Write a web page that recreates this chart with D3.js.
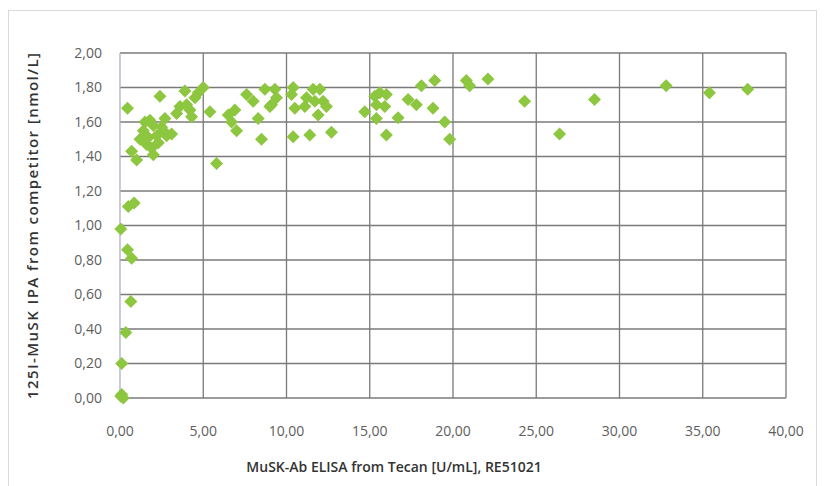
<!DOCTYPE html>
<html>
<head>
<meta charset="utf-8">
<script src="https://cdn.jsdelivr.net/npm/d3@7"></script>
<style>
	body { margin: 0; background: #fff; }
	.tick-label { font-family: "Open Sans", sans-serif; font-size: 14px; fill: #5e5e5e; }
	.axis-title { font-family: "Open Sans", sans-serif; font-weight: 600; fill: #333; }
</style>
</head>
<body>
<div id="chart"></div>
<script>

// MuSK-Ab ELISA (x) vs 125I-MuSK IPA (y)
var xValues = [0.05, 0.1, 0.2, 0.1, 0.35, 0.65, 0.7, 0.45, 0.05, 0.5, 0.85,
	0.7, 1.0, 0.45,
	1.2, 1.4, 1.6, 1.7, 2.0, 1.5, 1.8, 2.0, 2.2, 2.5, 2.7, 2.8, 3.1, 2.3, 1.9, 2.6,
	2.4, 3.6, 3.4, 3.9, 4.2, 4.3, 4.5, 4.7, 5.0, 4.0,
	5.4, 5.8, 6.5, 6.9, 7.0, 6.7, 7.6, 8.0, 8.3, 8.5, 8.7, 9.0, 9.3, 9.4, 9.1,
	10.4, 10.3, 10.5, 11.1, 11.2, 11.6, 12.0, 11.7, 12.2, 12.4, 11.9, 10.4, 11.4, 12.7,
	14.7, 15.3, 15.6, 16.0, 15.4, 15.9, 15.4, 16.0, 16.7, 17.3, 17.8, 18.1, 18.9, 18.8, 19.5, 19.8,
	20.8, 21.0, 22.1, 24.3, 26.4, 28.5, 32.8, 35.4, 37.7];

var yValues = [0.01, 0.02, 0.00, 0.20, 0.38, 0.56, 0.81, 0.86, 0.98, 1.11, 1.13,
	1.43, 1.38, 1.68,
	1.50, 1.55, 1.47, 1.51, 1.41, 1.60, 1.61, 1.58, 1.52, 1.57, 1.62, 1.52, 1.53, 1.48, 1.45, 1.55,
	1.75, 1.69, 1.65, 1.78, 1.67, 1.63, 1.74, 1.77, 1.80, 1.70,
	1.66, 1.36, 1.64, 1.67, 1.55, 1.60, 1.76, 1.72, 1.62, 1.50, 1.79, 1.69, 1.79, 1.74, 1.70,
	1.80, 1.76, 1.68, 1.69, 1.74, 1.79, 1.79, 1.72, 1.72, 1.69, 1.64, 1.515, 1.525, 1.54,
	1.66, 1.75, 1.77, 1.76, 1.70, 1.69, 1.62, 1.525, 1.625, 1.73, 1.70, 1.81, 1.84, 1.68, 1.60, 1.50,
	1.84, 1.81, 1.85, 1.72, 1.53, 1.73, 1.81, 1.77, 1.79];

var xTicks = [0, 5, 10, 15, 20, 25, 30, 35, 40];
var yTicks = [0, 0.2, 0.4, 0.6, 0.8, 1.0, 1.2, 1.4, 1.6, 1.8, 2.0];

var xTitle = "MuSK-Ab ELISA from Tecan [U/mL], RE51021";
var yTitle = "125I-MuSK IPA from competitor [nmol/L]";

var data = xValues.map(function(d, i) { return { x: d, y: yValues[i] }; });

var totalWidth = 825, totalHeight = 486;
var margin = { top: 53, right: 39, bottom: 88, left: 120 };
var width = totalWidth - margin.left - margin.right,
	height = totalHeight - margin.top - margin.bottom;

var fmt = function(d) { return d3.format(".2f")(d).replace(".", ","); };

var root = d3.select("#chart").append("svg")
		.attr("width", totalWidth)
		.attr("height", totalHeight);

// light frame round the chart
root.append("rect")
	.attr("x", 8.5).attr("y", 10.5)
	.attr("width", 808).attr("height", 490)
	.attr("fill", "none")
	.attr("stroke", "#d9d9d9")
	.attr("stroke-width", 1);

var svg = root.append("g")
		.attr("transform", "translate(" + margin.left + "," + margin.top + ")");

var x = d3.scaleLinear().domain([0, 40]).range([0, width]);
var y = d3.scaleLinear().domain([0, 2]).range([height, 0]);

// gridlines
svg.selectAll(".hgrid").data(yTicks)
	.enter().append("line")
	.attr("class", "hgrid")
	.attr("x1", 0).attr("x2", width)
	.attr("y1", function(d) { return y(d); })
	.attr("y2", function(d) { return y(d); })
	.attr("stroke", "#7a7a7a")
	.attr("stroke-width", 1.3);

svg.selectAll(".vgrid").data(xTicks)
	.enter().append("line")
	.attr("class", "vgrid")
	.attr("y1", 0).attr("y2", height)
	.attr("x1", function(d) { return x(d); })
	.attr("x2", function(d) { return x(d); })
	.attr("stroke", function(d) { return d === 0 ? "#b0b0c4" : "#7a7a7a"; })
	.attr("stroke-width", 1.3);

// tick labels
svg.selectAll(".ylab").data(yTicks)
	.enter().append("text")
	.attr("class", "tick-label ylab")
	.attr("x", -18)
	.attr("y", function(d) { return y(d); })
	.attr("dy", "0.35em")
	.attr("text-anchor", "end")
	.text(fmt);

svg.selectAll(".xlab").data(xTicks)
	.enter().append("text")
	.attr("class", "tick-label xlab")
	.attr("x", function(d) { return x(d); })
	.attr("y", height + 38)
	.attr("text-anchor", "middle")
	.text(fmt);

// axis titles
root.append("text")
	.attr("class", "axis-title")
	.attr("x", 394)
	.attr("y", 472)
	.attr("text-anchor", "middle")
	.style("font-size", "14px")
	.text(xTitle);

root.append("text")
	.attr("class", "axis-title")
	.attr("transform", "translate(38,226) rotate(-90)")
	.attr("text-anchor", "middle")
	.style("font-size", "15px")
	.attr("textLength", 346)
	.text(yTitle);

// diamond markers
var diamond = "M0,-6.5L6.5,0L0,6.5L-6.5,0Z";
svg.selectAll(".pt").data(data)
	.enter().append("path")
	.attr("class", "pt")
	.attr("d", diamond)
	.attr("transform", function(d) { return "translate(" + x(d.x) + "," + y(d.y) + ")"; })
	.attr("fill", "#8dc63f");

</script>
</body>
</html>
